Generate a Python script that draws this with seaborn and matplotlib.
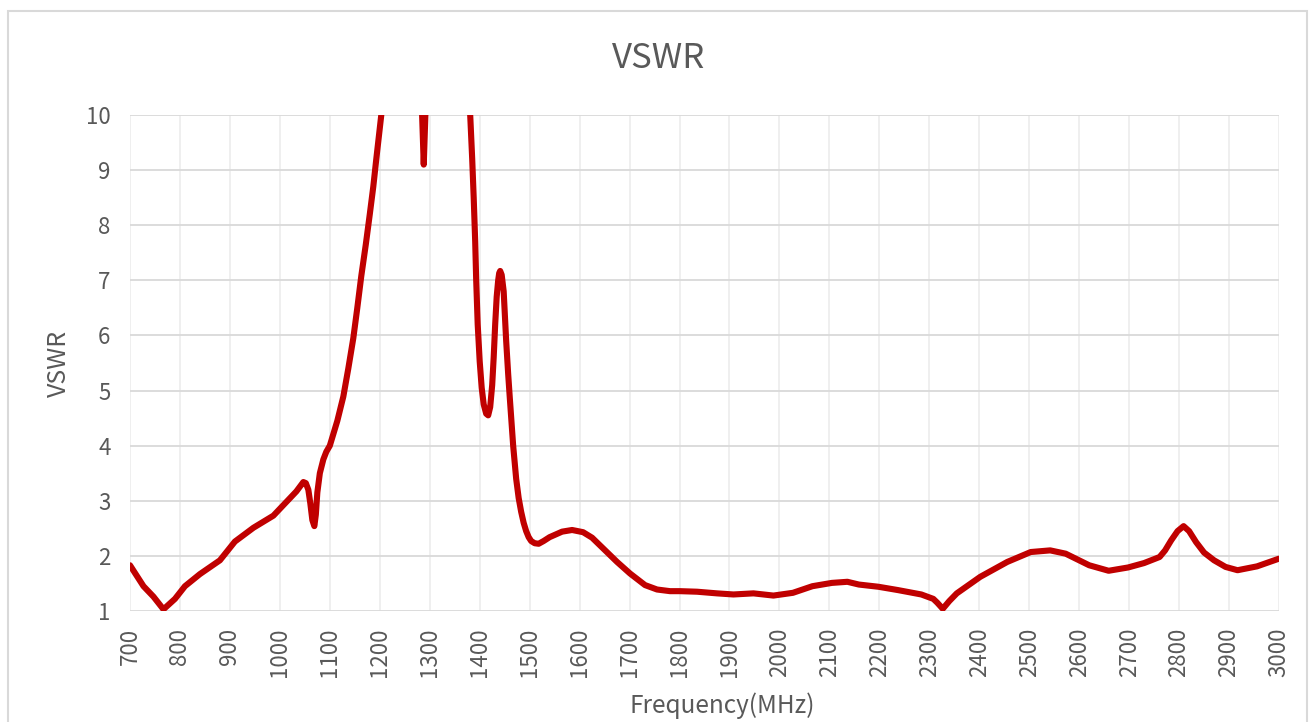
import pandas as pd
import matplotlib.pyplot as plt
import seaborn as sns
from matplotlib.patches import Rectangle

# values
freq_mhz = [700, 727, 747, 767, 790, 810, 840, 880, 910, 947, 987, 1010, 1033, 1047, 1052,
            1057, 1061, 1065, 1069, 1072, 1075, 1080, 1087, 1093, 1100, 1115, 1127, 1137,
            1147, 1155, 1163, 1172, 1180, 1187, 1193, 1203, 1230, 1260, 1276, 1284, 1288,
            1292, 1300, 1330, 1360, 1375, 1381, 1385, 1388, 1391, 1393, 1396, 1400, 1404,
            1408, 1413, 1417, 1421, 1425, 1428, 1431, 1434, 1437, 1439, 1441, 1444, 1448,
            1453, 1457, 1460, 1464, 1467, 1473, 1478, 1483, 1488, 1493, 1498, 1503, 1510,
            1518, 1528, 1540, 1565, 1585, 1607, 1625, 1641, 1675, 1701, 1731, 1755, 1781,
            1801, 1835, 1875, 1908, 1948, 1988, 2027, 2066, 2105, 2136, 2159, 2198, 2237,
            2284, 2308, 2316, 2327, 2340, 2355, 2402, 2456, 2503, 2542, 2573, 2620, 2659,
            2698, 2730, 2761, 2772, 2784, 2797, 2809, 2820, 2834, 2850, 2870, 2893, 2917,
            2956, 3000]
vswr = [1.83, 1.45, 1.26, 1.03, 1.22, 1.45, 1.67, 1.92, 2.26, 2.51, 2.73, 2.95, 3.17, 3.34, 3.32,
        3.2, 2.95, 2.65, 2.54, 2.75, 3.15, 3.5, 3.75, 3.89, 4.0, 4.45, 4.89, 5.4,
        5.95, 6.5, 7.08, 7.65, 8.2, 8.7, 9.2, 10.0, 12.5, 14.5, 15.0, 10.2, 9.1,
        10.2, 15.0, 15.5, 14.0, 11.0, 10.0, 9.2, 8.5, 7.7, 7.0, 6.2, 5.53, 5.05,
        4.75, 4.58, 4.55, 4.7, 5.1, 5.6, 6.2, 6.7, 7.0, 7.13, 7.17, 7.1, 6.8,
        5.9, 5.3, 4.9, 4.4, 4.0, 3.4, 3.05, 2.8, 2.6, 2.45, 2.34, 2.27, 2.23,
        2.22, 2.27, 2.34, 2.44, 2.47, 2.43, 2.33, 2.19, 1.89, 1.68, 1.47, 1.39, 1.36,
        1.36, 1.35, 1.32, 1.30, 1.32, 1.28, 1.33, 1.45, 1.51, 1.53, 1.48, 1.44, 1.38,
        1.30, 1.22, 1.15, 1.04, 1.18, 1.32, 1.62, 1.89, 2.07, 2.10, 2.04, 1.83, 1.73,
        1.79, 1.87, 1.98, 2.1, 2.28, 2.45, 2.54, 2.45, 2.25, 2.06, 1.92, 1.8, 1.74,
        1.81, 1.95]
x_ticks = list(range(700, 3001, 100))
y_ticks = list(range(1, 11))

df = pd.DataFrame({"freq": freq_mhz, "vswr": vswr})

sns.set_style("white")
plt.rcParams['font.family'] = ['Noto Sans CJK SC', 'DejaVu Sans']
plt.rcParams['font.weight'] = 'light'
grey = "#595959"

fig = plt.figure(figsize=(13.1, 7.22), dpi=100)
ax = fig.add_axes([130 / 1310, 1 - 611 / 722, 1149 / 1310, 496 / 722])

ax.set_xticks(x_ticks)
ax.set_yticks(y_ticks)
ax.grid(axis='y', color="#d9d9d9", linewidth=1.3)
ax.grid(axis='x', color="#eeeeee", linewidth=1.3)
ax.set_axisbelow(True)

sns.lineplot(data=df, x="freq", y="vswr", ax=ax, estimator=None, sort=False,
             color="#C00000", linewidth=4.4,
             solid_joinstyle='round', solid_capstyle='round')

ax.set_xlim(700, 3000)
ax.set_ylim(1, 10)
sns.despine(ax=ax, top=True, right=True, left=True, bottom=True)

ax.tick_params(axis='x', labelrotation=90, length=0, pad=12, labelsize=16, labelcolor=grey)
ax.tick_params(axis='y', length=0, pad=14, labelsize=16, labelcolor=grey)

ax.set_xlabel("Frequency(MHz)", fontsize=17.5, color=grey)
ax.set_ylabel("VSWR", fontsize=18, color=grey)
ax.xaxis.set_label_coords((722 - 130) / 1149, (611 - 692) / 496)
ax.yaxis.set_label_coords((72 - 130) / 1149, 0.5)

fig.text(0.503, 1 - 58 / 722, "VSWR", ha='center', va='center', fontsize=25, color=grey)

# chart-area border like the spreadsheet frame
fig.patches.append(Rectangle((8 / 1310, -0.01), (1307 - 8) / 1310, (722 - 11) / 722 + 0.01,
                             transform=fig.transFigure, fill=False,
                             edgecolor="#d9d9d9", linewidth=1.5))

fig.savefig("out.png", dpi=100)
